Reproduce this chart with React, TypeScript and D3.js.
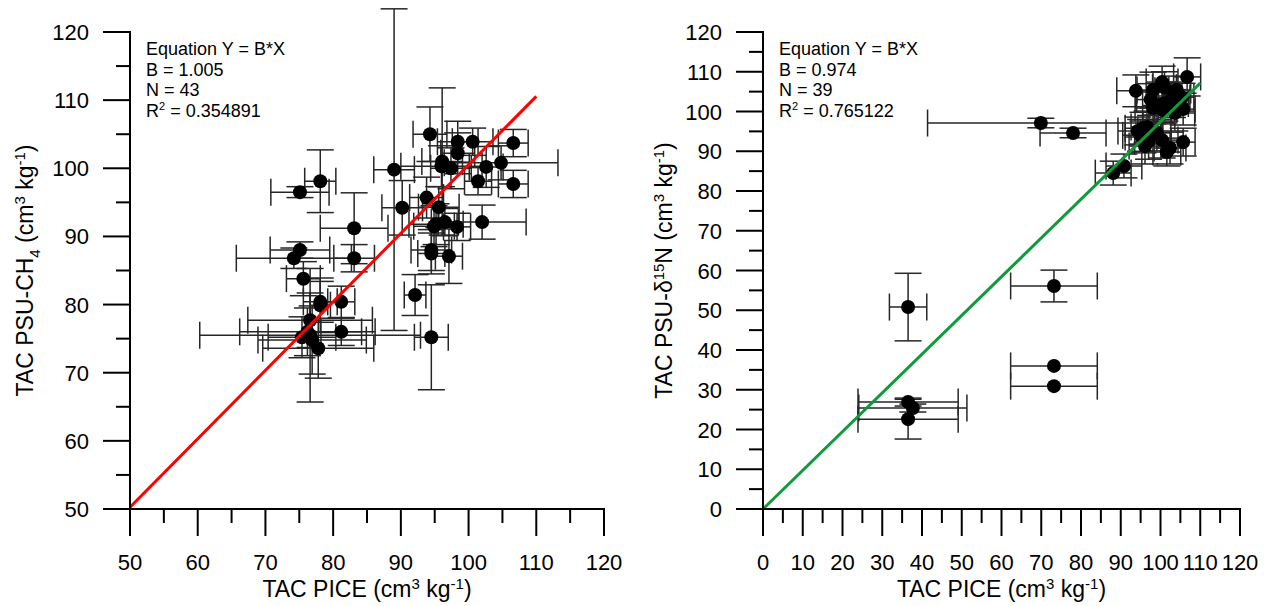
import React from 'react';
import * as d3 from 'd3';

// ---------- Left panel data: TAC PICE vs TAC PSU-CH4 ----------
const leftX = [75.1, 78.1, 83.1, 75.1, 74.2, 83.1, 75.6, 78.1, 78.1, 81.2, 76.6, 81.2, 75.4, 76.6, 76.9, 77.8, 92.1, 94.5, 89.0, 94.3, 98.4, 100.6, 106.6, 98.4, 96.1, 97.4, 96.0, 102.6, 104.8, 101.4, 106.6, 93.8, 90.2, 95.6, 102.0, 94.9, 96.5, 98.3, 94.5, 94.5, 97.1, 95.2, 76.2];
const leftY = [96.5, 98.1, 91.2, 88.0, 86.8, 86.8, 83.8, 80.4, 79.9, 80.4, 77.7, 76.0, 75.2, 75.5, 74.8, 73.6, 81.4, 75.2, 99.8, 105.0, 103.9, 103.9, 103.7, 102.2, 101.0, 100.0, 100.3, 100.2, 100.8, 98.1, 97.7, 95.7, 94.2, 94.3, 92.1, 91.5, 92.1, 91.4, 88.0, 87.5, 87.1, 91.8, 76.0];
const leftXErr = [4.3, 2.3, 5.0, 4.4, 8.5, 3.0, 2.5, 2.5, 1.5, 2.0, 9.2, 3.0, 5.0, 16.3, 8.0, 8.2, 1.6, 2.5, 3.0, 2.5, 3.0, 3.0, 2.2, 2.5, 3.0, 3.0, 6.0, 2.5, 8.4, 2.0, 2.2, 2.5, 3.0, 3.0, 6.5, 3.0, 2.0, 2.0, 3.0, 2.0, 2.0, 4.0, 10.0];
const leftYErr = [0.8, 4.6, 5.2, 1.2, 1.5, 2.0, 2.5, 3.0, 4.0, 2.3, 4.0, 2.0, 3.0, 9.8, 5.0, 4.4, 3.0, 7.7, 23.6, 4.0, 3.0, 2.0, 2.0, 3.0, 10.8, 3.0, 3.0, 3.0, 2.5, 2.0, 2.0, 3.0, 4.0, 3.0, 2.5, 3.0, 2.0, 2.0, 3.0, 3.0, 4.0, 3.0, 3.5];
const leftSlope = 1.005;
const leftFitRange = [50, 110];
const leftEq = ['Equation Y = B*X', 'B = 1.005', 'N = 43', '0.354891'];
const leftTicks = [50, 60, 70, 80, 90, 100, 110, 120];
const leftMinor = [55, 65, 75, 85, 95, 105, 115];

// ---------- Right panel data: TAC PICE vs TAC PSU-d15N ----------
const rightX = [36.5, 73.2, 73.2, 73.2, 36.5, 37.7, 36.5, 69.9, 78.0, 106.7, 100.4, 93.8, 98.1, 104.1, 102.9, 105.4, 101.1, 98.1, 100.6, 105.7, 103.6, 95.6, 94.3, 96.6, 99.1, 95.6, 100.4, 105.7, 96.1, 101.6, 102.4, 90.8, 88.1, 97.5, 99.5, 95.0, 97.0, 103.0, 101.0];
const rightY = [50.8, 56.1, 36.0, 30.9, 26.9, 25.4, 22.6, 97.1, 94.6, 108.7, 107.4, 105.2, 105.4, 105.4, 103.4, 103.6, 102.1, 100.9, 100.4, 100.6, 99.6, 95.8, 95.1, 96.1, 94.6, 93.6, 92.8, 92.3, 91.3, 89.8, 90.8, 86.3, 84.5, 103.0, 101.5, 94.0, 92.5, 102.0, 106.0];
const rightXErr = [4.7, 10.9, 10.9, 10.9, 12.6, 13.6, 12.6, 28.5, 8.3, 3.4, 4.0, 4.8, 4.0, 3.5, 4.5, 3.0, 4.0, 4.5, 3.5, 3.0, 5.0, 4.5, 5.0, 4.0, 3.5, 4.5, 4.0, 3.0, 4.0, 3.5, 4.0, 4.5, 4.5, 3.5, 4.0, 4.5, 3.5, 4.0, 3.0];
const rightYErr = [8.5, 4.0, 0.0, 0.0, 1.0, 1.0, 5.0, 1.2, 1.2, 4.8, 4.0, 4.0, 4.5, 3.5, 4.0, 3.5, 4.5, 4.0, 3.5, 4.0, 4.5, 4.0, 3.5, 4.0, 4.5, 4.0, 4.5, 3.5, 4.5, 3.5, 4.0, 3.0, 3.0, 4.0, 3.5, 4.0, 4.5, 3.5, 4.0];
const rightSlope = 0.974;
const rightFitRange = [0, 110];
const rightEq = ['Equation Y = B*X', 'B = 0.974', 'N = 39', '0.765122'];
const rightTicks = [0, 10, 20, 30, 40, 50, 60, 70, 80, 90, 100, 110, 120];
const rightMinor = [5, 15, 25, 35, 45, 55, 65, 75, 85, 95, 105, 115];

const FONT = '"Liberation Sans", Arial, Helvetica, sans-serif';
const CAP = 13.5;
const ERR_COLOR = '#262626';

type PanelProps = {
  xs: number[]; ys: number[]; xe: number[]; ye: number[];
  domain: [number, number];
  xRange: [number, number]; yRange: [number, number];
  ticks: number[]; minor: number[];
  slope: number; fit: number[]; color: string;
  eq: string[];
  yTitle: React.ReactNode; yTitleX: number;
};

function Panel(p: PanelProps) {
  const x = d3.scaleLinear().domain(p.domain).range(p.xRange);
  const y = d3.scaleLinear().domain(p.domain).range(p.yRange);
  const x0 = p.xRange[0];
  const y0 = p.yRange[0];
  const line = d3.line<number>().x((d) => x(d)).y((d) => y(p.slope * d));
  const cx = (p.xRange[0] + p.xRange[1]) / 2;
  const cy = (p.yRange[0] + p.yRange[1]) / 2;
  return (
    <g fontFamily={FONT}>
      {/* error bars */}
      <g stroke={ERR_COLOR} strokeWidth={1.5} fill="none">
        {p.xs.map((xv, i) => {
          const yv = p.ys[i];
          const px = x(xv), py = y(yv);
          const xl = x(xv - p.xe[i]), xr = x(xv + p.xe[i]);
          const yt = y(yv + p.ye[i]), yb = y(yv - p.ye[i]);
          return (
            <g key={i}>
              {p.xe[i] > 0 && (
                <>
                  <line x1={xl} x2={xr} y1={py} y2={py} />
                  <line x1={xl} x2={xl} y1={py - CAP} y2={py + CAP} />
                  <line x1={xr} x2={xr} y1={py - CAP} y2={py + CAP} />
                </>
              )}
              {p.ye[i] > 0 && (
                <>
                  <line x1={px} x2={px} y1={yt} y2={yb} />
                  <line x1={px - CAP} x2={px + CAP} y1={yt} y2={yt} />
                  <line x1={px - CAP} x2={px + CAP} y1={yb} y2={yb} />
                </>
              )}
            </g>
          );
        })}
      </g>
      {/* points */}
      <g fill="#000">
        {p.xs.map((xv, i) => (
          <circle key={i} cx={x(xv)} cy={y(p.ys[i])} r={7} />
        ))}
      </g>
      {/* fit line */}
      <path d={line(p.fit) || ''} stroke={p.color} strokeWidth={3} fill="none" />
      {/* axes */}
      <g stroke="#000" strokeWidth={2}>
        <line x1={x0} x2={p.xRange[1] + 1} y1={y0} y2={y0} />
        <line x1={x0} x2={x0} y1={y0} y2={p.yRange[1] - 1} />
        {p.ticks.map((t) => (
          <line key={'xt' + t} x1={x(t)} x2={x(t)} y1={y0} y2={y0 + 27} />
        ))}
        {p.minor.map((t) => (
          <line key={'xm' + t} x1={x(t)} x2={x(t)} y1={y0} y2={y0 + 14} />
        ))}
        {p.ticks.map((t) => (
          <line key={'yt' + t} x1={x0 - 27} x2={x0} y1={y(t)} y2={y(t)} />
        ))}
        {p.minor.map((t) => (
          <line key={'ym' + t} x1={x0 - 14} x2={x0} y1={y(t)} y2={y(t)} />
        ))}
      </g>
      <g fontSize={22} fill="#000">
        {p.ticks.map((t) => (
          <text key={'xl' + t} x={x(t)} y={y0 + 61} textAnchor="middle">{t}</text>
        ))}
        {p.ticks.map((t) => (
          <text key={'yl' + t} x={x0 - 41} y={y(t) + 8} textAnchor="end">{t}</text>
        ))}
      </g>
      {/* x title */}
      <text x={cx} y={597} textAnchor="middle" fontSize={23} fill="#000">
        TAC PICE (cm<tspan dy={-8} fontSize={15}>3</tspan>
        <tspan dy={8}> kg</tspan><tspan dy={-8} fontSize={15}>-1</tspan>
        <tspan dy={8}>)</tspan>
      </text>
      {/* y title */}
      <text transform={`translate(${p.yTitleX},${cy}) rotate(-90)`} textAnchor="middle" fontSize={23} fill="#000">
        {p.yTitle}
      </text>
      {/* equation box */}
      <g fontSize={18} fill="#000">
        <text x={x0 + 16} y={55}>{p.eq[0]}</text>
        <text x={x0 + 16} y={76}>{p.eq[1]}</text>
        <text x={x0 + 16} y={96}>{p.eq[2]}</text>
        <text x={x0 + 16} y={117}>
          R<tspan dy={-7} fontSize={11}>2</tspan><tspan dy={7}> = {p.eq[3]}</tspan>
        </text>
      </g>
    </g>
  );
}

export default function App() {
  const leftTitle = (
    <>
      TAC PSU-CH<tspan dy={7} fontSize={15}>4</tspan>
      <tspan dy={-7}> (cm</tspan><tspan dy={-8} fontSize={15}>3</tspan>
      <tspan dy={8}> kg</tspan><tspan dy={-8} fontSize={15}>-1</tspan>
      <tspan dy={8}>)</tspan>
    </>
  );
  const rightTitle = (
    <>
      TAC PSU-δ<tspan dy={-8} fontSize={15}>15</tspan>
      <tspan dy={8}>N (cm</tspan><tspan dy={-8} fontSize={15}>3</tspan>
      <tspan dy={8}> kg</tspan><tspan dy={-8} fontSize={15}>-1</tspan>
      <tspan dy={8}>)</tspan>
    </>
  );
  return (
    <svg width={1270} height={606} style={{ position: 'absolute', left: 0, top: 0, background: '#fff' }}>
      <rect width={1270} height={606} fill="#fff" />
      <Panel
        xs={leftX} ys={leftY} xe={leftXErr} ye={leftYErr}
        domain={[50, 120]} xRange={[130, 604]} yRange={[509, 32]}
        ticks={leftTicks} minor={leftMinor}
        slope={leftSlope} fit={leftFitRange} color="#ff0000"
        eq={leftEq} yTitle={leftTitle} yTitleX={33}
      />
      <Panel
        xs={rightX} ys={rightY} xe={rightXErr} ye={rightYErr}
        domain={[0, 120]} xRange={[763, 1240]} yRange={[509, 32]}
        ticks={rightTicks} minor={rightMinor}
        slope={rightSlope} fit={rightFitRange} color="#0f9a3c"
        eq={rightEq} yTitle={rightTitle} yTitleX={672}
      />
    </svg>
  );
}
